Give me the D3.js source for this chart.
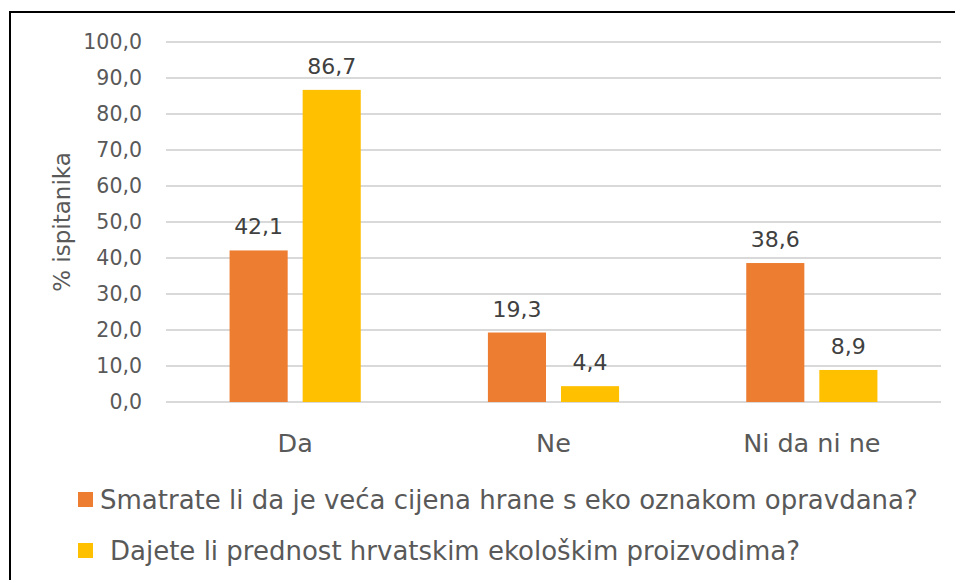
<!DOCTYPE html>
<html>
<head>
<meta charset="utf-8">
<script src="https://cdn.jsdelivr.net/npm/d3@7"></script>
<style>
  body { margin: 0; background: #fff; }
  text { font-family: "DejaVu Sans", Verdana, sans-serif; }
</style>
</head>
<body>
<div id="chart"></div>
<script>
// data
var categories = ["Da", "Ne", "Ni da ni ne"];
var seriesNames = [
  "Smatrate li da je veća cijena hrane s eko oznakom opravdana?",
  "Dajete li prednost hrvatskim ekološkim proizvodima?"
];
var cijenaOpravdana = [42.1, 19.3, 38.6];
var prednostHrvatskim = [86.7, 4.4, 8.9];
var yTicks = [0, 10, 20, 30, 40, 50, 60, 70, 80, 90, 100];
var colors = ["#ED7D31", "#FFC000"];

var width = 955, height = 580;
var plotLeft = 166, plotRight = 941, plotTop = 42, plotBottom = 402;

var svg = d3.select("#chart").append("svg")
  .attr("width", width)
  .attr("height", height);

svg.append("rect")
  .attr("x", 0).attr("y", 0)
  .attr("width", width).attr("height", height)
  .attr("fill", "#fff");

// outer frame (cropped on right and bottom)
svg.append("rect")
  .attr("x", 10).attr("y", 12)
  .attr("width", 960).attr("height", 600)
  .attr("fill", "none")
  .attr("stroke", "#000")
  .attr("stroke-width", 2);

var x0 = d3.scaleBand()
  .domain(categories)
  .range([plotLeft, plotRight])
  .paddingInner(0)
  .paddingOuter(0);

var x1 = d3.scaleBand()
  .domain([0, 1])
  .range([0, x0.bandwidth()])
  .paddingInner(0.205)
  .paddingOuter(0.87);

var y = d3.scaleLinear()
  .domain([0, 100])
  .range([plotBottom, plotTop]);

// gridlines
svg.append("g")
  .selectAll("line")
  .data(yTicks)
  .enter().append("line")
  .attr("x1", plotLeft).attr("x2", plotRight)
  .attr("y1", function(d){ return y(d); })
  .attr("y2", function(d){ return y(d); })
  .attr("stroke", "#D9D9D9")
  .attr("stroke-width", 2);

// y tick labels
svg.append("g")
  .selectAll("text")
  .data(yTicks)
  .enter().append("text")
  .attr("x", 142)
  .attr("y", function(d){ return y(d); })
  .attr("dy", "0.35em")
  .attr("text-anchor", "end")
  .attr("font-size", 20.5)
  .attr("fill", "#595959")
  .text(function(d){ return d.toFixed(1).replace(".", ","); });

// y axis title
svg.append("text")
  .attr("transform", "translate(70," + ((plotTop + plotBottom) / 2) + ") rotate(-90)")
  .attr("text-anchor", "middle")
  .attr("font-size", 23)
  .attr("fill", "#595959")
  .text("% ispitanika");

var rows = categories.map(function(c, i){
  return { cat: c, vals: [cijenaOpravdana[i], prednostHrvatskim[i]] };
});

var groups = svg.append("g")
  .selectAll("g")
  .data(rows)
  .enter().append("g")
  .attr("transform", function(d){ return "translate(" + x0(d.cat) + ",0)"; });

groups.selectAll("rect")
  .data(function(d){ return d.vals.map(function(v, k){ return { k: k, v: v }; }); })
  .enter().append("rect")
  .attr("x", function(d){ return x1(d.k); })
  .attr("width", x1.bandwidth())
  .attr("y", function(d){ return y(d.v); })
  .attr("height", function(d){ return plotBottom - y(d.v); })
  .attr("fill", function(d){ return colors[d.k]; });

groups.selectAll("text")
  .data(function(d){ return d.vals.map(function(v, k){ return { k: k, v: v }; }); })
  .enter().append("text")
  .attr("x", function(d){ return x1(d.k) + x1.bandwidth() / 2; })
  .attr("y", function(d){ return y(d.v) - 16; })
  .attr("text-anchor", "middle")
  .attr("font-size", 22)
  .attr("fill", "#404040")
  .text(function(d){ return d.v.toFixed(1).replace(".", ","); });

// category labels
svg.append("g")
  .selectAll("text")
  .data(categories)
  .enter().append("text")
  .attr("x", function(d){ return x0(d) + x0.bandwidth() / 2; })
  .attr("y", 452)
  .attr("text-anchor", "middle")
  .attr("font-size", 25.5)
  .attr("fill", "#595959")
  .text(function(d){ return d; });

// legend
var legend = svg.append("g");
var legY = [500, 551];
var legTextX = [100, 110];
seriesNames.forEach(function(name, i){
  legend.append("rect")
    .attr("x", 78).attr("y", legY[i] - 8)
    .attr("width", 15).attr("height", 15)
    .attr("fill", colors[i]);
  legend.append("text")
    .attr("x", legTextX[i])
    .attr("y", legY[i])
    .attr("dy", "0.35em")
    .attr("font-size", 26)
    .attr("fill", "#595959")
    .text(name);
});
</script>
</body>
</html>
